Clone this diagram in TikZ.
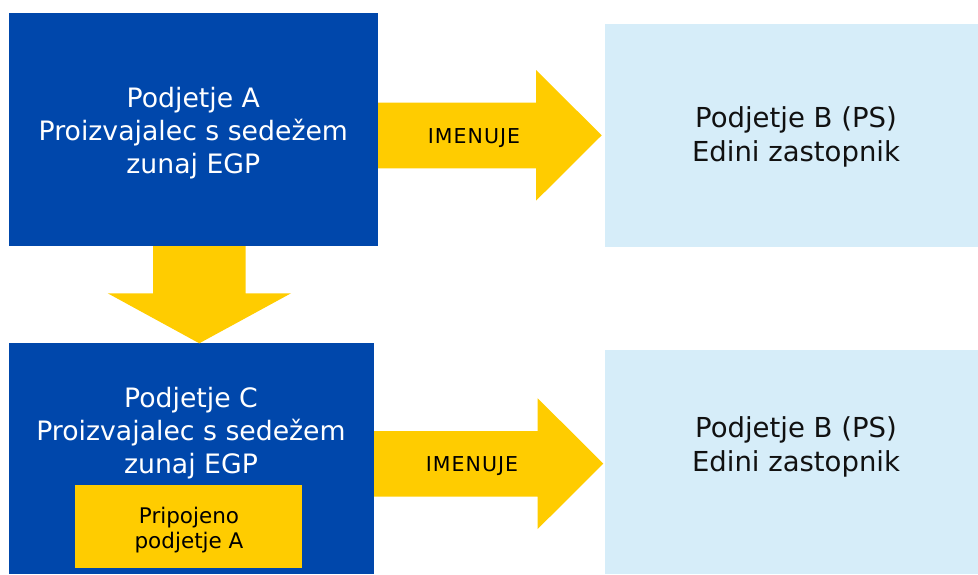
\documentclass[tikz,border=0pt]{standalone}
\usepackage{fontspec}
\setmainfont{DejaVu Sans}
\usetikzlibrary{calc}
\definecolor{eublue}{RGB}{0,71,171}
\definecolor{euyellow}{RGB}{255,204,0}
\definecolor{lightbox}{RGB}{214,237,249}
\definecolor{darktext}{RGB}{17,17,17}
\tikzset{
  box/.style={draw=none, inner sep=0pt, outer sep=0pt, minimum width=#1},
  bluebox/.style={fill=eublue},
  paleblock/.style={fill=lightbox},
  yellowblock/.style={fill=euyellow},
  bigwhite/.style={align=center, text=white, inner sep=0pt, font=\fontsize{26.7}{33}\selectfont},
  bigdark/.style={align=center, text=darktext, inner sep=0pt, font=\fontsize{27.5}{33.4}\selectfont},
  smalldark/.style={align=center, text=black, inner sep=0pt, font=\fontsize{21.5}{25}\selectfont},
  arrowlabel/.style={text=black, inner sep=0pt, anchor=base, font=\fontsize{20.5}{24}\selectfont\addfontfeature{LetterSpace=5}},
  blockarrow/.style={fill=euyellow, draw=none}
}
\begin{document}
\begin{tikzpicture}[x=1pt, y=-1pt]
\useasboundingbox (0,0) rectangle (978,574);
% boxes
\node[box=369pt, minimum height=233.3pt, bluebox] (A) at (193.5,129.4) {};
\node[box=373pt, minimum height=223pt, paleblock] (B1) at (791.5,135.5) {};
\node[box=365pt, minimum height=230.7pt, bluebox] (C) at (191.5,458.65) {};
\node[box=373pt, minimum height=224pt, paleblock] (B2) at (791.5,462) {};
\node[box=227pt, minimum height=82.7pt, yellowblock] (M) at (188.5,526.35) {};
% block arrows (A -> B1, A -> C, C -> B2)
\fill[blockarrow] (A.east |- 0,102.7) -- (536,102.7) -- (536,70) -- (601.7,135.3)
  -- (536,200.7) -- (536,168.3) -- (A.east |- 0,168.3) -- cycle;
\fill[blockarrow] (153,0 |- A.south) -- (245.7,0 |- A.south) -- (245.7,293.3) -- (291,293.3)
  -- (199.3,0 |- C.north) -- (107.7,293.3) -- (153,293.3) -- cycle;
\fill[blockarrow] (C.east |- 0,431) -- (537.7,431) -- (537.7,398.3) -- (603.3,463.6)
  -- (537.7,529) -- (537.7,496.7) -- (C.east |- 0,496.7) -- cycle;
% texts
\node[bigwhite] (At) at (193.3,133.6) {Podjetje A\\Proizvajalec s sedežem\\zunaj EGP};
\node[bigwhite] (Ct) at (191,433.3) {Podjetje C\\Proizvajalec s sedežem\\zunaj EGP};
\node[bigdark] (B1t) at (796,136.8) {Podjetje B (PS)\\Edini zastopnik};
\node[bigdark] (B2t) at (796,446.8) {Podjetje B (PS)\\Edini zastopnik};
\node[smalldark] (Mt) at (189,529.7) {Pripojeno\\podjetje A};
\node[arrowlabel] (L1) at (474,143) {IMENUJE};
\node[arrowlabel] (L2) at (472,471.7) {IMENUJE};
\end{tikzpicture}
\end{document}
